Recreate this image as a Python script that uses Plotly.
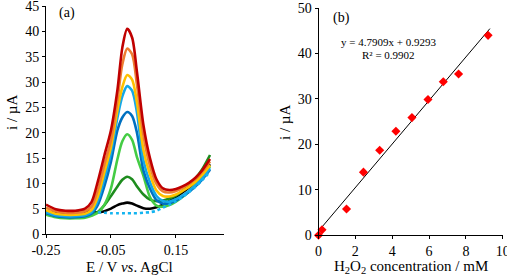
import plotly.graph_objects as go

# ---------- Panel (a): voltammograms ----------
E = [-0.25, -0.22, -0.19, -0.16, -0.13, -0.11, -0.09, -0.07, -0.05, -0.03, -0.015, 0.0,
     0.015, 0.03, 0.05, 0.07, 0.09, 0.11, 0.13, 0.15, 0.17, 0.19, 0.21, 0.23, 0.255]

i_red = [5.8, 4.9, 4.6, 4.6, 5.0, 6.3, 10.5, 15.6, 20.5, 28.5, 36.8, 40.5,
         38.8, 32.0, 21.5, 15.0, 10.8, 9.0, 8.7, 8.9, 9.4, 10.1, 11.1, 12.5, 14.8]
i_orange = [5.2, 4.5, 4.2, 4.2, 4.5, 5.4, 8.8, 13.8, 18.5, 26.5, 33.5, 36.6,
            35.5, 29.5, 19.5, 13.5, 9.9, 8.4, 8.2, 8.5, 9.1, 9.9, 10.9, 12.2, 14.3]
i_yellow = [4.7, 4.0, 3.8, 3.8, 4.0, 4.7, 7.5, 12.3, 17.2, 24.5, 29.0, 31.4,
            30.5, 26.0, 16.6, 11.8, 8.6, 7.5, 7.4, 7.8, 8.5, 9.3, 10.3, 11.6, 13.6]
i_sky = [4.3, 3.7, 3.5, 3.5, 3.7, 4.3, 6.6, 11.0, 16.0, 23.0, 27.2, 29.2,
         28.3, 24.0, 14.5, 10.2, 7.5, 6.5, 6.4, 6.9, 7.6, 8.5, 9.6, 10.9, 13.0]
i_blue = [4.1, 3.5, 3.3, 3.3, 3.5, 4.0, 5.8, 9.5, 14.3, 20.5, 23.0, 24.1,
          23.3, 20.0, 12.5, 9.0, 6.7, 6.0, 6.1, 6.6, 7.4, 8.3, 9.4, 10.7, 12.7]
i_lgreen = [3.8, 3.3, 3.1, 3.1, 3.2, 3.6, 4.2, 5.8, 9.0, 14.8, 18.3, 19.7,
            18.6, 15.2, 11.5, 7.3, 5.6, 5.4, 5.7, 6.4, 7.3, 8.4, 9.7, 11.2, 13.4]
i_dgreen = [4.0, 3.5, 3.3, 3.3, 3.5, 3.9, 4.4, 5.7, 7.5, 9.4, 10.7, 11.3,
            10.8, 9.4, 7.8, 6.8, 6.5, 6.6, 7.0, 7.6, 8.5, 9.6, 11.0, 12.7, 15.6]
i_black = [4.4, 4.2, 4.2, 4.3, 4.4, 4.4, 4.3, 4.5, 5.0, 5.7, 6.0, 6.2,
           6.0, 5.6, 5.1, 5.0, 5.3, 5.8, 6.5, 7.3, 8.2, 9.2, 10.4, 11.8, 13.8]
E_dot = [-0.09, -0.07, -0.05, -0.03, -0.015, 0.0, 0.015, 0.03, 0.05, 0.07, 0.09,
         0.11, 0.13, 0.15, 0.17, 0.19, 0.21, 0.23, 0.255]
i_dot = [4.3, 4.2, 4.1, 4.1, 4.1, 4.1, 4.1, 4.1, 4.2, 4.3, 4.6,
         5.2, 5.8, 6.5, 7.3, 8.3, 9.3, 10.6, 12.3]

series_a = [
    (E, i_black, "#000000", "solid"),
    (E, i_dgreen, "#1E8C1E", "solid"),
    (E, i_lgreen, "#44CC44", "solid"),
    (E, i_blue, "#0070C0", "solid"),
    (E, i_sky, "#14A8E8", "solid"),
    (E, i_yellow, "#FFC000", "solid"),
    (E, i_orange, "#ED7D31", "solid"),
    (E, i_red, "#C00000", "solid"),
    (E_dot, i_dot, "#14B4F0", "dot"),
]

# ---------- Panel (b): calibration ----------
conc = [0.0, 0.19, 1.52, 2.44, 3.32, 4.2, 5.07, 5.94, 6.77, 7.6, 9.2]
current = [0.0, 1.2, 5.8, 13.9, 18.7, 22.9, 25.9, 29.9, 33.8, 35.5, 44.0]
slope = 4.7909
intercept = 0.9293
fit_x = [0.0, 9.3]
fit_y = [slope * x + intercept for x in fit_x]

fig = go.Figure()
for xs, ys, col, dash in series_a:
    fig.add_trace(go.Scatter(x=xs, y=ys, mode="lines", xaxis="x", yaxis="y",
                             line=dict(color=col, width=2.6, dash=dash, shape="spline", smoothing=0.8),
                             showlegend=False, hoverinfo="skip"))

fig.add_trace(go.Scatter(x=fit_x, y=fit_y, mode="lines", xaxis="x2", yaxis="y2",
                         line=dict(color="#000000", width=1), showlegend=False))
fig.add_trace(go.Scatter(x=conc, y=current, mode="markers", xaxis="x2", yaxis="y2",
                         marker=dict(symbol="diamond", size=7, color="#FF0000"),
                         showlegend=False, cliponaxis=False))

W, H = 507, 277
font = "Liberation Serif, Times New Roman, serif"
axis_common = dict(showline=True, linecolor="black", linewidth=1, ticks="outside",
                   ticklen=3, tickcolor="black", showgrid=False, zeroline=False,
                   automargin=False, ticklabeloverflow="allow",
                   tickfont=dict(family=font, size=14, color="black"))

def label(text, x, y, size, angle=0):
    return dict(text=text, x=x / W, y=1 - y / H, xref="paper", yref="paper",
                xanchor="center", yanchor="middle", showarrow=False, textangle=angle,
                font=dict(family=font, size=size, color="black"))

fig.update_layout(
    width=W, height=H, margin=dict(l=0, r=0, t=0, b=0, autoexpand=False),
    paper_bgcolor="white", plot_bgcolor="white",
    font=dict(family=font, color="black"),
    xaxis=dict(domain=[46 / W, 224 / W], range=[-0.25, 0.298], anchor="y",
               tickvals=[-0.25, -0.05, 0.15], ticktext=["-0.25", "-0.05", "0.15"], **axis_common),
    yaxis=dict(domain=[1 - 234 / H, 1 - 6 / H], range=[0, 45.02], anchor="x",
               tickvals=[0, 5, 10, 15, 20, 25, 30, 35, 40, 45], **axis_common),
    xaxis2=dict(domain=[318.5 / W, 503 / W], range=[0, 10.01], anchor="y2",
                tickvals=[0, 2, 4, 6, 8, 10], ticktext=["0", "2", "4", "6", "8", "10"], **axis_common),
    yaxis2=dict(domain=[1 - 235.3 / H, 1 - 8 / H], range=[0, 50.02], anchor="x2",
                tickvals=[0, 10, 20, 30, 40, 50], **axis_common),
    annotations=[
        label("(a)", 67, 13, 14),
        label("(b)", 341, 18, 14),
        label("y = 4.7909x + 0.9293", 388, 42, 11),
        label("R² = 0.9902", 388, 54.5, 11),
        label("E / V <i>vs</i>. AgCl", 129, 267, 15),
        label("H<sub>2</sub>O<sub>2</sub> concentration / mM", 411, 267, 15),
        label("i / µA", 12, 113, 15, -90),
        label("i / µA", 285, 123, 15, -90),
    ],
)

fig.write_html("out.html")
